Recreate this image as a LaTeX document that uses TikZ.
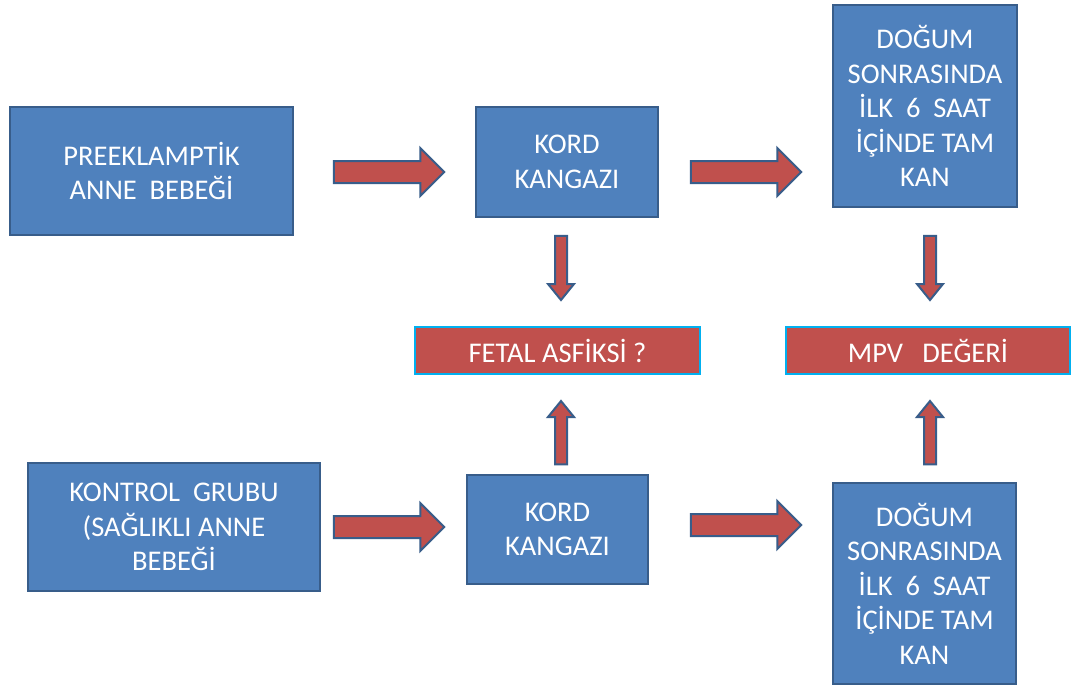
\documentclass[tikz,border=0pt]{standalone}
\usepackage{fontspec}
\setmainfont{Carlito}
\usetikzlibrary{calc}
\definecolor{boxblue}{HTML}{4F81BD}
\definecolor{boxedge}{HTML}{385D8A}
\definecolor{boxred}{HTML}{C0504D}
\definecolor{cyanedge}{HTML}{00B0F0}
\tikzset{
  bluebox/.style={draw=boxedge, line width=1.5pt, fill=boxblue, text=white, align=center,
    font=\fontsize{28.5}{34.5}\selectfont, inner sep=0pt},
  redbox/.style={draw=cyanedge, line width=2pt, fill=boxred, text=white, align=center,
    font=\fontsize{28.5}{34.5}\selectfont, inner sep=0pt},
  blockarrow/.style={fill=boxred, draw=boxedge, line width=2pt, line join=miter},
}
\newcommand\arrowR[2]{%
  \path[blockarrow] ($(#1)+(0,-11)$) -- ($(#2)+(-24,-11)$) -- ($(#2)+(-24,-24)$) -- (#2)
    -- ($(#2)+(-24,24)$) -- ($(#2)+(-24,11)$) -- ($(#1)+(0,11)$) -- cycle;}
\newcommand\arrowV[3]{%
  \path[blockarrow] ($(#1)+(-6,0)$) -- ($(#2)+(-6,-16*#3)$) -- ($(#2)+(-13,-16*#3)$) -- (#2)
    -- ($(#2)+(13,-16*#3)$) -- ($(#2)+(6,-16*#3)$) -- ($(#1)+(6,0)$) -- cycle;}
\begin{document}
\begin{tikzpicture}[x=1pt,y=-1pt]
\useasboundingbox (0,0) rectangle (1076,686);
\fill[white] (0,0) rectangle (1076,686);
% boxes
\node[bluebox, minimum width=283pt, minimum height=128pt] (A) at (151.5,171) {PREEKLAMPTİK\\ANNE\ \ BEBEĞİ};
\node[bluebox, minimum width=182pt, minimum height=110pt] (B) at (567,162) {KORD\\KANGAZI};
\node[bluebox, minimum width=184pt, minimum height=202pt] (C) at (925,106) {DOĞUM\\SONRASINDA\\İLK\ \ 6\ \ SAAT\\İÇİNDE TAM\\KAN};
\node[redbox, minimum width=285pt, minimum height=47pt] (D) at (557.5,350.5) {FETAL ASFİKSİ ?};
\node[redbox, minimum width=284pt, minimum height=47pt] (E) at (928,350.5) {MPV\ \ \ DEĞERİ};
\node[bluebox, minimum width=292pt, minimum height=128pt] (F) at (174,527) {KONTROL\ \ GRUBU\\(SAĞLIKLI ANNE\\BEBEĞİ};
\node[bluebox, minimum width=181pt, minimum height=109pt] (G) at (557.5,529.5) {KORD\\KANGAZI};
\node[bluebox, minimum width=183pt, minimum height=201pt] (H) at (924.5,583.5) {DOĞUM\\SONRASINDA\\İLK\ \ 6\ \ SAAT\\İÇİNDE TAM\\KAN};
% arrow end points
\coordinate (ab1) at ($(A.east)+(40,1)$);
\coordinate (ab2) at ($(B.west |- A.east)+(-31,1)$);
\coordinate (bc1) at ($(B.east)+(32,10)$);
\coordinate (bc2) at ($(C.west |- B.east)+(-31,10)$);
\coordinate (fg1) at ($(F.east)+(13,0)$);
\coordinate (fg2) at ($(G.west |- F.east)+(-22,0)$);
\coordinate (gh1) at ($(G.east)+(42,-4.5)$);
\coordinate (gh2) at ($(H.west |- G.east)+(-31,-4.5)$);
\coordinate (bd1) at ($(B.south)+(-6,18)$);
\coordinate (bd2) at ($(D.north)+(3.5,-26)$);
\coordinate (ce1) at ($(C.south)+(5,28)$);
\coordinate (ce2) at ($(E.north)+(2,-26)$);
\coordinate (gd1) at ($(G.north)+(3.5,-10)$);
\coordinate (gd2) at ($(D.south)+(3.5,26)$);
\coordinate (he1) at ($(H.north)+(5.5,-18)$);
\coordinate (he2) at ($(E.south)+(2,26)$);
% arrows
\arrowR{ab1}{ab2}
\arrowR{bc1}{bc2}
\arrowR{fg1}{fg2}
\arrowR{gh1}{gh2}
\arrowV{bd1}{bd2}{1}
\arrowV{ce1}{ce2}{1}
\arrowV{gd1}{gd2}{-1}
\arrowV{he1}{he2}{-1}
\end{tikzpicture}
\end{document}
